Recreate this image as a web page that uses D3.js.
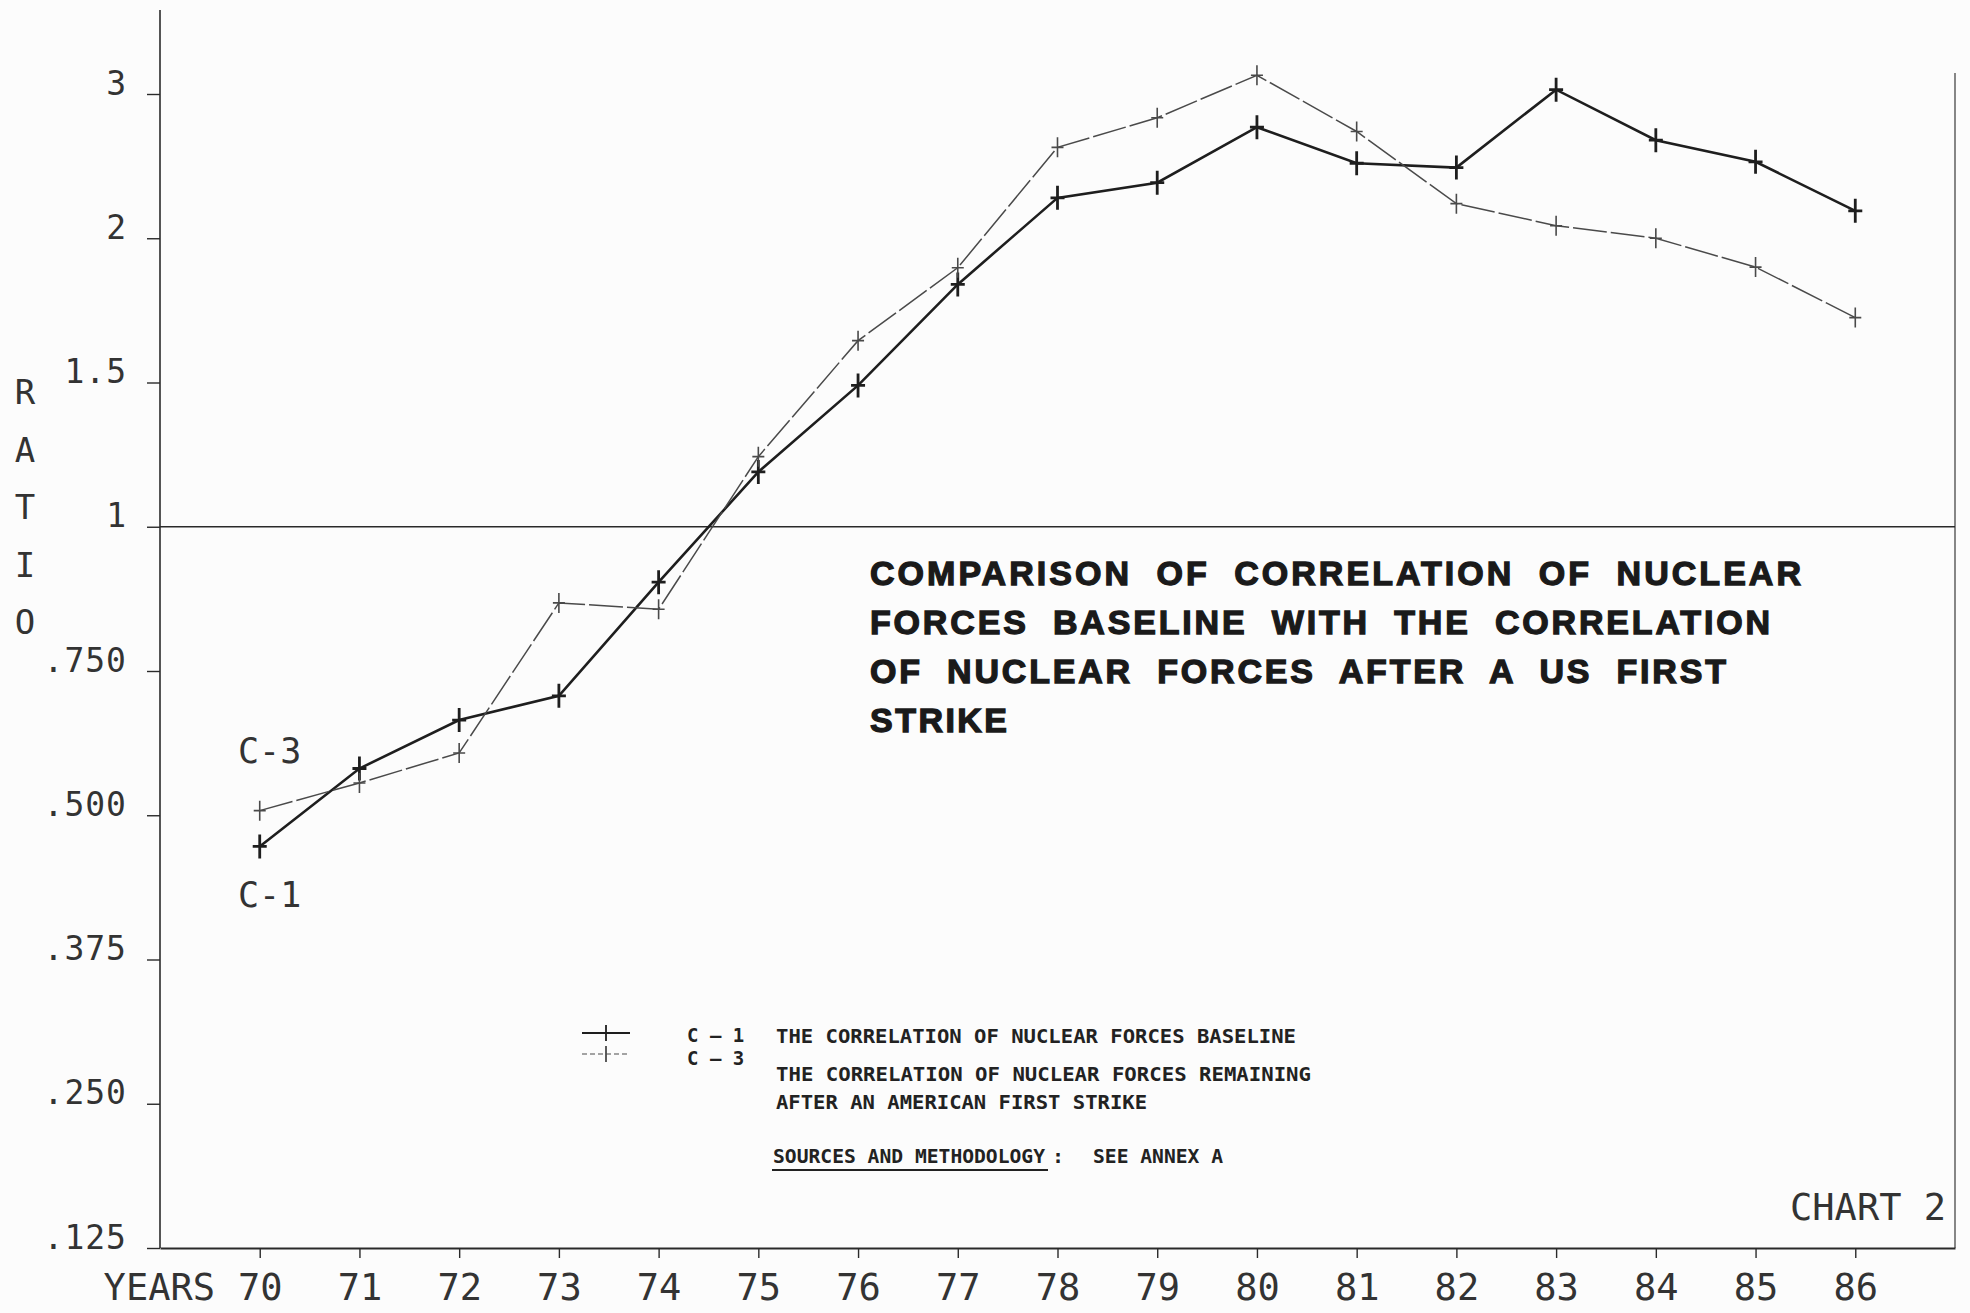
<!DOCTYPE html>
<html>
<head>
<meta charset="utf-8">
<script src="https://cdn.jsdelivr.net/npm/d3@7"></script>
<style>
  body { margin: 0; background: #fcfcfc; }
  svg { display: block; }
</style>
</head>
<body>
<div id="chart"></div>
<script>
// years on the x axis
const YEARS = [70, 71, 72, 73, 74, 75, 76, 77, 78, 79, 80, 81, 82, 83, 84, 85, 86];
// C-1 : correlation of nuclear forces baseline
const C1_VALUES = [0.473, 0.581, 0.665, 0.707, 0.904, 1.19, 1.49, 1.84, 2.28, 2.385, 2.77, 2.52, 2.49, 3.03, 2.68, 2.53, 2.19];
// C-3 : remaining after an american first strike
const C3_VALUES = [0.508, 0.556, 0.608, 0.868, 0.857, 1.243, 1.645, 1.898, 2.63, 2.835, 3.13, 2.74, 2.24, 2.087, 2.0, 1.90, 1.725];
// ratio ticks, evenly spaced on the paper
const Y_TICKS = [0.125, 0.25, 0.375, 0.5, 0.75, 1, 1.5, 2, 3];
const Y_TICK_LABELS = ['.125', '.250', '.375', '.500', '.750', '1', '1.5', '2', '3'];

const TITLE_LINES = [
	'COMPARISON OF CORRELATION OF NUCLEAR',
	'FORCES BASELINE WITH THE CORRELATION',
	'OF NUCLEAR FORCES AFTER A US FIRST',
	'STRIKE'
];

const WIDTH = 1970;
const HEIGHT = 1313;
const PLOT = { left: 160, right: 1955, top: 10, bottom: 1248, yTop: 94 };
const PLOT_FONT = "'DejaVu Sans Mono', monospace";
const TITLE_FONT = "'Liberation Sans', Arial, sans-serif";
const INK = '#2a2a2a';

const svg = d3.select('#chart')
	.append('svg')
		.attr('width', WIDTH)
		.attr('height', HEIGHT)
		.style('background', '#fcfcfc');

const x = d3.scaleLinear()
	.domain([69, 87])
	.range([PLOT.left, PLOT.right]);

const yStep = (PLOT.bottom - PLOT.yTop) / (Y_TICKS.length - 1);
const y = d3.scaleLinear()
	.domain(Y_TICKS)
	.range(Y_TICKS.map((d, i) => PLOT.bottom - i * yStep));

// frame lines
svg.append('line')
	.attr('x1', PLOT.left).attr('x2', PLOT.left)
	.attr('y1', PLOT.top).attr('y2', PLOT.bottom)
	.attr('stroke', INK).attr('stroke-width', 1.6);
svg.append('line')
	.attr('x1', PLOT.right).attr('x2', PLOT.right)
	.attr('y1', 73).attr('y2', PLOT.bottom)
	.attr('stroke', '#555').attr('stroke-width', 1.4);
// ratio = 1 line
svg.append('line')
	.attr('x1', PLOT.left).attr('x2', PLOT.right)
	.attr('y1', y(1)).attr('y2', y(1))
	.attr('stroke', INK).attr('stroke-width', 1.5);

// x axis
const xAxisCall = d3.axisBottom(x)
	.tickValues(YEARS)
	.tickFormat(d => String(d))
	.tickSizeInner(10)
	.tickSizeOuter(0);
const xAxis = svg.append('g')
	.attr('transform', `translate(0, ${PLOT.bottom})`)
	.call(xAxisCall);
xAxis.select('.domain').attr('stroke', INK).attr('stroke-width', 1.8);
xAxis.selectAll('.tick line').attr('stroke', INK).attr('stroke-width', 1.4);
xAxis.selectAll('.tick text')
	.attr('y', 52)
	.attr('dy', 0)
	.attr('fill', '#333')
	.style('font-family', PLOT_FONT)
	.style('font-size', '37px');

svg.append('text')
	.attr('x', 215)
	.attr('y', PLOT.bottom + 52)
	.attr('text-anchor', 'end')
	.attr('fill', '#333')
	.style('font-family', PLOT_FONT)
	.style('font-size', '37px')
	.text('YEARS');

// y axis
const yAxisCall = d3.axisLeft(y)
	.tickValues(Y_TICKS)
	.tickFormat((d, i) => Y_TICK_LABELS[i])
	.tickSizeInner(13)
	.tickSizeOuter(0)
	.tickPadding(20);
const yAxis = svg.append('g')
	.attr('transform', `translate(${PLOT.left}, 0)`)
	.call(yAxisCall);
yAxis.select('.domain').remove();
yAxis.selectAll('.tick line').attr('stroke', INK).attr('stroke-width', 1.4);
yAxis.selectAll('.tick text')
	.attr('dy', 0)
	.attr('fill', '#333')
	.style('font-family', PLOT_FONT)
	.style('font-size', '33px')
	.style('letter-spacing', '1px');

// vertical RATIO label
svg.append('g')
	.selectAll('text')
	.data('RATIO'.split(''))
	.enter()
	.append('text')
		.attr('x', 25)
		.attr('y', (d, i) => 404 + i * 57.5)
		.attr('text-anchor', 'middle')
		.attr('fill', '#333')
		.style('font-family', PLOT_FONT)
		.style('font-size', '34px')
		.text(d => d);

// series
const series = [
	{ key: 'C-1', values: C1_VALUES, width: 2.6, color: '#1e1e1e', dash: null, arm: [7, 12], armWidth: 2.8 },
	{ key: 'C-3', values: C3_VALUES, width: 1.5, color: '#4a4a4a', dash: '34,4', arm: [6, 10], armWidth: 1.6 }
];

const line = d3.line()
	.x(d => x(d.year))
	.y(d => y(d.value));

series.forEach(s => {
	const pts = YEARS.map((yr, i) => ({ year: yr, value: s.values[i] }));
	svg.append('path')
		.datum(pts)
		.attr('d', line)
		.attr('fill', 'none')
		.attr('stroke', s.color)
		.attr('stroke-width', s.width)
		.attr('stroke-dasharray', s.dash);
	svg.append('g')
		.selectAll('path')
		.data(pts)
		.enter()
		.append('path')
			.attr('transform', d => `translate(${x(d.year)}, ${y(d.value)})`)
			.attr('d', `M${-s.arm[0]},0H${s.arm[0]}M0,${-s.arm[1]}V${s.arm[1]}`)
			.attr('stroke', s.color)
			.attr('stroke-width', s.armWidth);
});

// series labels at the start of the lines
svg.append('text')
	.attr('x', 238).attr('y', 763)
	.attr('fill', '#333')
	.style('font-family', PLOT_FONT)
	.style('font-size', '35px')
	.text('C-3');
svg.append('text')
	.attr('x', 238).attr('y', 907)
	.attr('fill', '#333')
	.style('font-family', PLOT_FONT)
	.style('font-size', '35px')
	.text('C-1');

// title block
const TITLE_WIDTHS = [931, 900, 856, 137];
svg.append('g')
	.selectAll('text')
	.data(TITLE_LINES)
	.enter()
	.append('text')
		.attr('x', 870)
		.attr('y', (d, i) => 585 + i * 49)
		.attr('textLength', (d, i) => TITLE_WIDTHS[i])
		.attr('lengthAdjust', 'spacing')
		.attr('fill', '#1a1a1a')
		.attr('stroke', '#1a1a1a')
		.attr('stroke-width', 1.3)
		.style('font-family', TITLE_FONT)
		.style('font-weight', 'bold')
		.style('font-size', '34px')
		.style('word-spacing', '12px')
		.text(d => d);

// legend
const legend = svg.append('g');
const legendRows = [
	{ s: series[0], y: 1033, code: 'C – 1', codeY: 1042 },
	{ s: series[1], y: 1054, code: 'C – 3', codeY: 1065 }
];
legendRows.forEach(r => {
	legend.append('line')
		.attr('x1', 582).attr('x2', 630)
		.attr('y1', r.y).attr('y2', r.y)
		.attr('stroke', r.s.color)
		.attr('stroke-width', r.s.width * 0.8)
		.attr('stroke-dasharray', r.s === series[1] ? '5,3' : null);
	legend.append('path')
		.attr('transform', `translate(606, ${r.y})`)
		.attr('d', 'M0,-8V8')
		.attr('stroke', r.s.color)
		.attr('stroke-width', 1.8);
	legend.append('text')
		.attr('x', 687).attr('y', r.codeY)
		.attr('fill', '#222')
		.style('font-family', PLOT_FONT)
		.style('font-weight', 'bold')
		.style('font-size', '19px')
		.text(r.code);
});

const LEGEND_TEXT = [
	{ t: 'THE CORRELATION OF NUCLEAR FORCES BASELINE', y: 1043, w: 520 },
	{ t: 'THE CORRELATION OF NUCLEAR FORCES REMAINING', y: 1081, w: 535 },
	{ t: 'AFTER AN AMERICAN FIRST STRIKE', y: 1109, w: 371 },
	{ t: 'SOURCES AND METHODOLOGY', y: 1163, w: 272, x: 773 }
];
legend.selectAll('text.desc')
	.data(LEGEND_TEXT)
	.enter()
	.append('text')
		.attr('class', 'desc')
		.attr('x', d => d.x || 776)
		.attr('y', d => d.y)
		.attr('textLength', d => d.w)
		.attr('lengthAdjust', 'spacingAndGlyphs')
		.attr('fill', '#222')
		.style('font-family', PLOT_FONT)
		.style('font-weight', 'bold')
		.style('font-size', '20px')
		.text(d => d.t);
legend.append('line')
	.attr('x1', 772).attr('x2', 1048)
	.attr('y1', 1170).attr('y2', 1170)
	.attr('stroke', '#222').attr('stroke-width', 2);
legend.append('text')
	.attr('x', 1052).attr('y', 1163)
	.attr('fill', '#222')
	.style('font-family', PLOT_FONT)
	.style('font-weight', 'bold')
	.style('font-size', '20px')
	.text(':');
legend.append('text')
	.attr('x', 1093).attr('y', 1163)
	.attr('textLength', 130)
	.attr('lengthAdjust', 'spacingAndGlyphs')
	.attr('fill', '#222')
	.style('font-family', PLOT_FONT)
	.style('font-weight', 'bold')
	.style('font-size', '20px')
	.text('SEE ANNEX A');

// chart number
svg.append('text')
	.attr('x', 1946)
	.attr('y', 1220)
	.attr('text-anchor', 'end')
	.attr('fill', '#333')
	.style('font-family', PLOT_FONT)
	.style('font-size', '37px')
	.text('CHART 2');
</script>
</body>
</html>
